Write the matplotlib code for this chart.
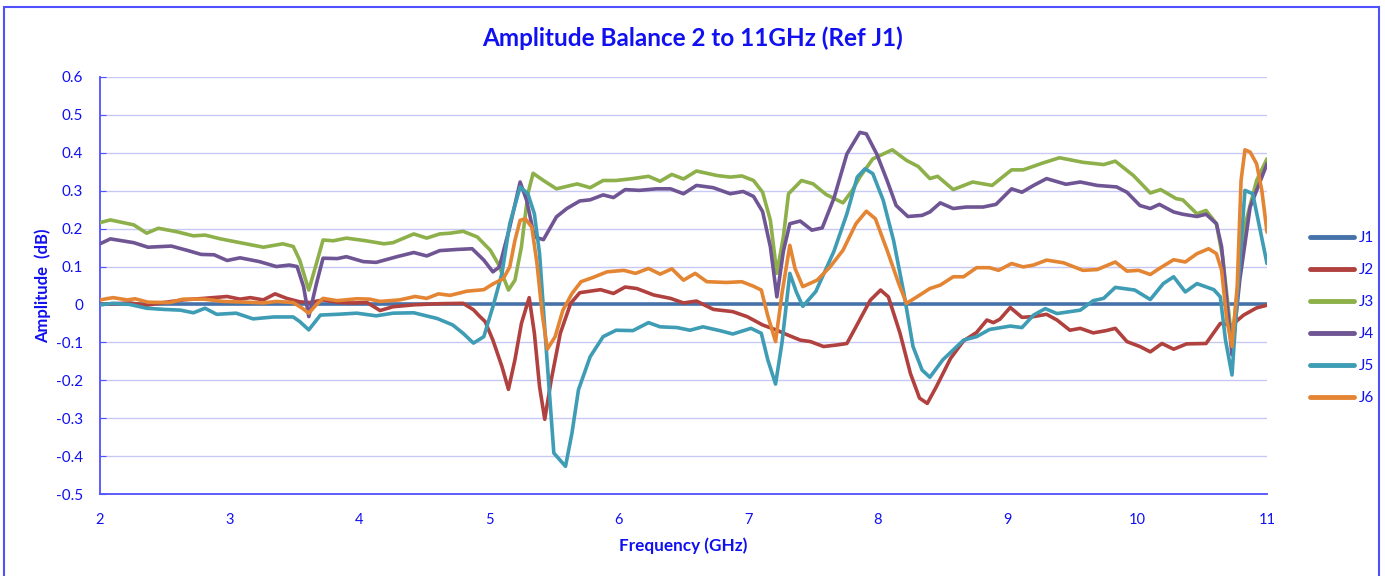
import matplotlib
matplotlib.use("Agg")
import matplotlib.pyplot as plt
from matplotlib.patches import Rectangle

# ---------------- data ----------------
f_j1 = [2.0, 11.0]
v_j1 = [0.0, 0.0]

f_j2 = [2.0, 2.23, 2.36, 2.49, 2.64, 2.80, 2.98, 3.08, 3.16, 3.26, 3.35, 3.44, 3.54, 3.62, 3.72, 3.85,
        3.95, 4.06, 4.16, 4.26, 4.42, 4.62, 4.80, 4.88, 4.93, 4.97, 5.03, 5.10, 5.15, 5.20, 5.25, 5.31,
        5.35, 5.39, 5.43, 5.48, 5.55, 5.63, 5.70, 5.86, 5.96, 6.05, 6.14, 6.27, 6.40, 6.50, 6.60, 6.73,
        6.88, 6.99, 7.11, 7.22, 7.30, 7.40, 7.48, 7.58, 7.68, 7.76, 7.83, 7.94, 8.02, 8.08, 8.17, 8.25,
        8.32, 8.38, 8.45, 8.56, 8.66, 8.76, 8.84, 8.89, 8.94, 9.02, 9.11, 9.20, 9.30, 9.38, 9.48, 9.56,
        9.66, 9.76, 9.83, 9.92, 10.02, 10.10, 10.19, 10.28, 10.38, 10.53, 10.64, 10.73, 10.82, 10.92, 11.0]
v_j2 = [0.0, 0.004, -0.002, 0.005, 0.012, 0.016, 0.021, 0.014, 0.018, 0.012, 0.028, 0.016, 0.007, 0.005, 0.012, 0.005,
        0.004, 0.005, -0.016, -0.006, -0.001, 0.002, 0.003, -0.014, -0.032, -0.045, -0.094, -0.164, -0.224, -0.146, -0.050, 0.018,
        -0.076, -0.217, -0.303, -0.199, -0.076, 0.003, 0.031, 0.039, 0.029, 0.046, 0.042, 0.025, 0.016, 0.004, 0.009, -0.013,
        -0.019, -0.032, -0.054, -0.068, -0.080, -0.094, -0.098, -0.111, -0.107, -0.103, -0.059, 0.011, 0.038, 0.020, -0.076, -0.182,
        -0.247, -0.261, -0.217, -0.142, -0.096, -0.074, -0.041, -0.048, -0.039, -0.008, -0.034, -0.032, -0.026, -0.041, -0.068, -0.063,
        -0.075, -0.069, -0.063, -0.098, -0.111, -0.125, -0.103, -0.118, -0.104, -0.103, -0.050, -0.054, -0.028, -0.009, -0.002]

f_j3 = [2.0, 2.08, 2.26, 2.36, 2.45, 2.59, 2.72, 2.81, 2.93, 3.08, 3.26, 3.41, 3.49, 3.54, 3.61, 3.67,
        3.72, 3.80, 3.90, 4.05, 4.19, 4.26, 4.42, 4.52, 4.62, 4.70, 4.80, 4.91, 5.01, 5.07, 5.11, 5.15,
        5.20, 5.25, 5.30, 5.34, 5.42, 5.52, 5.68, 5.78, 5.88, 5.98, 6.11, 6.23, 6.32, 6.41, 6.50, 6.60,
        6.76, 6.86, 6.95, 7.04, 7.11, 7.17, 7.22, 7.27, 7.31, 7.41, 7.50, 7.60, 7.73, 7.80, 7.86, 7.96,
        8.11, 8.22, 8.31, 8.40, 8.46, 8.58, 8.73, 8.88, 9.03, 9.12, 9.27, 9.40, 9.58, 9.74, 9.83, 9.97,
        10.10, 10.18, 10.30, 10.35, 10.46, 10.53, 10.61, 10.66, 10.73, 10.82, 10.92, 11.0]
v_j3 = [0.216, 0.223, 0.210, 0.188, 0.201, 0.192, 0.181, 0.183, 0.173, 0.163, 0.151, 0.160, 0.153, 0.117, 0.038, 0.109,
        0.170, 0.168, 0.175, 0.168, 0.160, 0.163, 0.186, 0.175, 0.186, 0.188, 0.193, 0.178, 0.143, 0.108, 0.073, 0.038,
        0.064, 0.152, 0.292, 0.346, 0.327, 0.305, 0.318, 0.308, 0.327, 0.327, 0.332, 0.338, 0.325, 0.343, 0.331, 0.352,
        0.340, 0.336, 0.339, 0.327, 0.296, 0.222, 0.082, 0.178, 0.292, 0.327, 0.318, 0.290, 0.268, 0.300, 0.336, 0.384,
        0.408, 0.380, 0.364, 0.332, 0.338, 0.303, 0.323, 0.314, 0.355, 0.355, 0.373, 0.387, 0.375, 0.369, 0.378, 0.340,
        0.294, 0.303, 0.279, 0.276, 0.239, 0.248, 0.213, 0.120, -0.100, 0.196, 0.327, 0.384]

f_j4 = [2.0, 2.08, 2.26, 2.37, 2.55, 2.68, 2.78, 2.88, 2.98, 3.08, 3.23, 3.36, 3.46, 3.52, 3.57, 3.61,
        3.67, 3.72, 3.83, 3.90, 4.03, 4.13, 4.29, 4.42, 4.52, 4.62, 4.75, 4.87, 4.96, 5.03, 5.08, 5.16,
        5.24, 5.29, 5.35, 5.42, 5.52, 5.60, 5.70, 5.78, 5.88, 5.96, 6.05, 6.16, 6.29, 6.40, 6.50, 6.60,
        6.73, 6.86, 6.96, 7.04, 7.11, 7.17, 7.22, 7.27, 7.32, 7.40, 7.49, 7.57, 7.66, 7.76, 7.86, 7.91,
        7.99, 8.07, 8.14, 8.23, 8.34, 8.40, 8.48, 8.58, 8.68, 8.81, 8.91, 9.03, 9.11, 9.20, 9.30, 9.45,
        9.56, 9.69, 9.84, 9.92, 10.02, 10.10, 10.17, 10.28, 10.35, 10.46, 10.53, 10.61, 10.65, 10.73, 10.79, 10.87,
        10.95, 11.0]
v_j4 = [0.160, 0.173, 0.163, 0.151, 0.154, 0.142, 0.132, 0.131, 0.116, 0.123, 0.113, 0.100, 0.104, 0.100, 0.047, -0.032,
        0.056, 0.122, 0.121, 0.126, 0.113, 0.111, 0.126, 0.137, 0.128, 0.142, 0.145, 0.147, 0.117, 0.086, 0.099, 0.204,
        0.323, 0.275, 0.178, 0.171, 0.231, 0.253, 0.273, 0.276, 0.289, 0.282, 0.303, 0.301, 0.305, 0.305, 0.292, 0.314,
        0.308, 0.292, 0.298, 0.285, 0.245, 0.152, 0.020, 0.140, 0.213, 0.220, 0.196, 0.202, 0.280, 0.397, 0.454, 0.450,
        0.397, 0.327, 0.261, 0.232, 0.235, 0.244, 0.268, 0.253, 0.257, 0.257, 0.264, 0.305, 0.296, 0.314, 0.332, 0.317,
        0.323, 0.314, 0.310, 0.296, 0.261, 0.253, 0.264, 0.244, 0.238, 0.232, 0.238, 0.213, 0.152, -0.133, 0.064, 0.257,
        0.327, 0.371]

f_j5 = [2.0, 2.10, 2.23, 2.36, 2.49, 2.62, 2.72, 2.81, 2.90, 3.05, 3.18, 3.34, 3.49, 3.54, 3.61, 3.70,
        3.83, 3.98, 4.13, 4.26, 4.42, 4.60, 4.72, 4.80, 4.88, 4.96, 5.03, 5.10, 5.16, 5.24, 5.30, 5.35,
        5.39, 5.44, 5.50, 5.59, 5.64, 5.69, 5.78, 5.88, 5.98, 6.11, 6.23, 6.32, 6.45, 6.55, 6.65, 6.78,
        6.88, 7.02, 7.10, 7.15, 7.21, 7.26, 7.32, 7.37, 7.42, 7.52, 7.66, 7.76, 7.84, 7.90, 7.96, 8.04,
        8.12, 8.20, 8.27, 8.34, 8.40, 8.50, 8.66, 8.76, 8.86, 9.02, 9.11, 9.20, 9.29, 9.38, 9.56, 9.66,
        9.74, 9.83, 9.98, 10.10, 10.20, 10.28, 10.37, 10.46, 10.59, 10.64, 10.68, 10.73, 10.78, 10.83, 10.89, 11.0]
v_j5 = [-0.001, 0.003, 0.0, -0.010, -0.013, -0.015, -0.022, -0.010, -0.026, -0.023, -0.038, -0.033, -0.033, -0.045, -0.067, -0.028,
        -0.026, -0.023, -0.030, -0.023, -0.022, -0.037, -0.054, -0.076, -0.102, -0.085, -0.006, 0.082, 0.213, 0.310, 0.292, 0.239,
        0.134, -0.111, -0.392, -0.427, -0.339, -0.225, -0.138, -0.085, -0.068, -0.069, -0.048, -0.059, -0.061, -0.068, -0.059, -0.069,
        -0.078, -0.063, -0.076, -0.146, -0.210, -0.100, 0.082, 0.033, -0.005, 0.034, 0.140, 0.239, 0.336, 0.358, 0.345, 0.275,
        0.169, 0.029, -0.111, -0.173, -0.192, -0.146, -0.094, -0.085, -0.066, -0.057, -0.061, -0.028, -0.011, -0.024, -0.015, 0.010,
        0.016, 0.045, 0.038, 0.013, 0.055, 0.073, 0.033, 0.055, 0.039, 0.020, -0.094, -0.186, 0.064, 0.301, 0.292, 0.108]

f_j6 = [2.0, 2.10, 2.21, 2.27, 2.37, 2.54, 2.64, 2.80, 2.95, 3.13, 3.26, 3.36, 3.49, 3.56, 3.61, 3.67,
        3.72, 3.83, 3.98, 4.08, 4.16, 4.31, 4.43, 4.52, 4.61, 4.70, 4.83, 4.96, 5.03, 5.11, 5.16, 5.20,
        5.24, 5.28, 5.33, 5.37, 5.41, 5.45, 5.51, 5.57, 5.64, 5.71, 5.80, 5.91, 6.04, 6.13, 6.23, 6.32,
        6.41, 6.50, 6.59, 6.68, 6.83, 6.95, 7.04, 7.10, 7.15, 7.21, 7.26, 7.32, 7.36, 7.42, 7.53, 7.63,
        7.73, 7.83, 7.91, 7.98, 8.07, 8.16, 8.22, 8.30, 8.40, 8.48, 8.58, 8.66, 8.76, 8.86, 8.93, 9.03,
        9.12, 9.20, 9.30, 9.43, 9.58, 9.69, 9.83, 9.92, 10.01, 10.10, 10.17, 10.28, 10.37, 10.46, 10.55, 10.61,
        10.65, 10.69, 10.73, 10.77, 10.80, 10.83, 10.87, 10.92, 10.96, 11.0]
v_j6 = [0.012, 0.018, 0.012, 0.015, 0.006, 0.005, 0.014, 0.014, 0.008, 0.006, 0.004, 0.008, 0.005, -0.010, -0.023, 0.0,
        0.016, 0.010, 0.015, 0.014, 0.008, 0.012, 0.021, 0.016, 0.028, 0.024, 0.035, 0.039, 0.054, 0.068, 0.099, 0.169,
        0.222, 0.226, 0.204, 0.108, -0.024, -0.118, -0.085, -0.015, 0.029, 0.060, 0.071, 0.086, 0.090, 0.082, 0.095, 0.080,
        0.094, 0.064, 0.082, 0.060, 0.058, 0.060, 0.048, 0.038, -0.030, -0.098, 0.030, 0.156, 0.095, 0.047, 0.064, 0.099,
        0.143, 0.213, 0.246, 0.226, 0.143, 0.055, 0.003, 0.020, 0.042, 0.051, 0.073, 0.073, 0.097, 0.097, 0.090, 0.108,
        0.099, 0.104, 0.117, 0.110, 0.090, 0.092, 0.112, 0.088, 0.090, 0.079, 0.095, 0.118, 0.112, 0.134, 0.147, 0.134,
        0.090, -0.041, -0.111, 0.046, 0.327, 0.408, 0.402, 0.371, 0.301, 0.191]

series_names = ["J1", "J2", "J3", "J4", "J5", "J6"]
x_ticks = [2, 3, 4, 5, 6, 7, 8, 9, 10, 11]
y_ticks = [-0.5, -0.4, -0.3, -0.2, -0.1, 0, 0.1, 0.2, 0.3, 0.4, 0.5, 0.6]
y_tick_labels = ["-0.5", "-0.4", "-0.3", "-0.2", "-0.1", "0", "0.1", "0.2", "0.3", "0.4", "0.5", "0.6"]

# ---------------- styling ----------------
colors = ["#4672AA", "#B0413E", "#8DB04A", "#6F5594", "#3E9CB5", "#E48534"]
text_blue = "#1010F0"
axis_blue = "#5050FF"
grid_col = "#C8C8F4"
font = ["Lato", "DejaVu Sans"]

fig = plt.figure(figsize=(13.85, 5.76), dpi=100)
fig.patch.set_facecolor("white")
fig.patches.append(Rectangle((4 / 1385, -0.01), 1375 / 1385, 1 - 7 / 576 + 0.01,
                             transform=fig.transFigure, fill=False,
                             edgecolor=axis_blue, linewidth=1.5, zorder=0))

ax = fig.add_axes([100 / 1385, 1 - 494 / 576, 1167 / 1385, 417 / 576])

xs = [f_j1, f_j2, f_j3, f_j4, f_j5, f_j6]
ys = [v_j1, v_j2, v_j3, v_j4, v_j5, v_j6]
for i in range(6):
    ax.plot(xs[i], ys[i], color=colors[i], lw=2.6, label=series_names[i],
            solid_joinstyle="round", solid_capstyle="round", zorder=3)

ax.set_xlim(2, 11)
ax.set_ylim(-0.5, 0.6)
ax.set_xticks(x_ticks)
ax.set_yticks(y_ticks)
ax.set_yticklabels(y_tick_labels)
ax.grid(axis="y", color=grid_col, lw=1.0, zorder=0)
ax.set_axisbelow(True)
for s in ["top", "right"]:
    ax.spines[s].set_visible(False)
for s in ["left", "bottom"]:
    ax.spines[s].set_color(axis_blue)
    ax.spines[s].set_linewidth(1.3)
ax.tick_params(axis="x", length=0, pad=14, labelsize=10.5, labelcolor=text_blue)
ax.tick_params(axis="y", length=4, direction="in", color=axis_blue, pad=12, labelsize=11, labelcolor=text_blue)
for lab in ax.get_xticklabels() + ax.get_yticklabels():
    lab.set_family(font)

ax.set_xlabel("Frequency (GHz)", family=font, fontsize=12.3, fontweight="bold", color=text_blue, labelpad=7.5)
ax.set_ylabel("Amplitude  (dB)", family=font, fontsize=12, fontweight="bold", color=text_blue, labelpad=3.5)
fig.text(0.5, 1 - 38 / 576, "Amplitude Balance 2 to 11GHz (Ref J1)", ha="center", va="center",
         family=font, fontsize=17.5, fontweight="bold", color=text_blue)

leg = ax.legend(loc="center left", bbox_to_anchor=(1.025, 0.422), frameon=False,
                handlelength=2.9, handletextpad=0.3, labelspacing=1.18,
                prop={"family": font, "size": 11})
for t in leg.get_texts():
    t.set_color(text_blue)
for h in leg.get_lines():
    h.set_linewidth(3.5)

fig.savefig("out.png", dpi=100, facecolor="white")
